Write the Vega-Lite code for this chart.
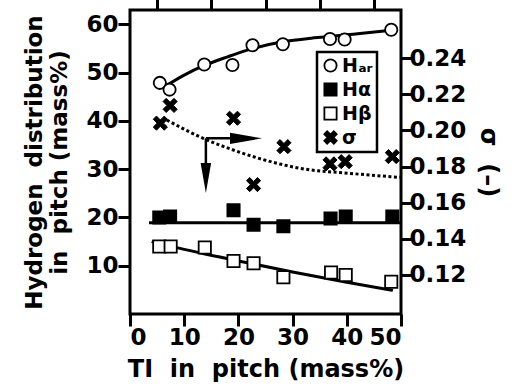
{
  "$schema": "https://vega.github.io/schema/vega-lite/v6.json",
  "width": 271,
  "height": 304,
  "autosize": {"type": "none"},
  "padding": {"left": 130, "top": 10, "right": 112, "bottom": 78},
  "background": "white",
  "config": {
    "view": {"stroke": "black", "strokeWidth": 3},
    "axis": {
      "domain": false, "grid": false, "zindex": 1,
      "tickColor": "black", "tickWidth": 3,
      "labelFont": "DejaVu Sans", "labelFontSize": 23, "labelFontWeight": "bold", "labelColor": "black",
      "titleFont": "DejaVu Sans", "titleFontSize": 24, "titleFontWeight": "bold", "titleColor": "black"
    },
    "legend": {
      "orient": "none", "legendX": 187, "legendY": 42,
      "strokeColor": "black", "strokeWidth": 2.5, "fillColor": "white", "padding": 4,
      "labelFont": "DejaVu Sans", "labelFontSize": 19, "labelFontWeight": "bold", "labelColor": "black", "labelOffset": 2,
      "symbolSize": 150, "symbolStrokeColor": "black", "symbolStrokeWidth": 1.6, "symbolOpacity": 1,
      "rowPadding": 3
    }
  },
  "datasets": {
    "pts": [
      {"series": "Har", "x": 5.5, "h": 47.9},
      {"series": "Har", "x": 7.3, "h": 46.5},
      {"series": "Har", "x": 13.7, "h": 51.7},
      {"series": "Har", "x": 18.9, "h": 51.6},
      {"series": "Har", "x": 22.6, "h": 55.7},
      {"series": "Har", "x": 28.2, "h": 55.9},
      {"series": "Har", "x": 36.9, "h": 57.0},
      {"series": "Har", "x": 39.6, "h": 56.9},
      {"series": "Har", "x": 48.2, "h": 58.9},
      {"series": "Hα", "x": 5.4, "h": 20.0},
      {"series": "Hα", "x": 7.4, "h": 20.2},
      {"series": "Hα", "x": 19.1, "h": 21.5},
      {"series": "Hα", "x": 22.8, "h": 18.5},
      {"series": "Hα", "x": 28.3, "h": 18.2},
      {"series": "Hα", "x": 37.0, "h": 19.8},
      {"series": "Hα", "x": 39.8, "h": 20.2},
      {"series": "Hα", "x": 48.4, "h": 20.2},
      {"series": "Hβ", "x": 5.4, "h": 14.0},
      {"series": "Hβ", "x": 7.5, "h": 14.0},
      {"series": "Hβ", "x": 13.8, "h": 13.8},
      {"series": "Hβ", "x": 19.1, "h": 11.0},
      {"series": "Hβ", "x": 22.8, "h": 10.5},
      {"series": "Hβ", "x": 28.3, "h": 7.6},
      {"series": "Hβ", "x": 37.1, "h": 8.6},
      {"series": "Hβ", "x": 39.8, "h": 8.1},
      {"series": "Hβ", "x": 48.2, "h": 6.7},
      {"series": "σ", "x": 5.6, "s": 0.2040},
      {"series": "σ", "x": 7.4, "s": 0.2138},
      {"series": "σ", "x": 19.1, "s": 0.2067},
      {"series": "σ", "x": 22.8, "s": 0.1700},
      {"series": "σ", "x": 28.4, "s": 0.1910},
      {"series": "σ", "x": 36.9, "s": 0.1815},
      {"series": "σ", "x": 39.7, "s": 0.1827},
      {"series": "σ", "x": 48.4, "s": 0.1855}
    ],
    "fits": [
      {"series": "Har", "x": 6.8, "h": 47.4},
      {"series": "Har", "x": 10, "h": 49.5},
      {"series": "Har", "x": 13.7, "h": 51.5},
      {"series": "Har", "x": 18, "h": 53.3},
      {"series": "Har", "x": 22.6, "h": 55.0},
      {"series": "Har", "x": 28.2, "h": 56.4},
      {"series": "Har", "x": 33, "h": 57.1},
      {"series": "Har", "x": 37, "h": 57.5},
      {"series": "Har", "x": 42, "h": 58.1},
      {"series": "Har", "x": 48.2, "h": 58.8},
      {"series": "Hα", "x": 3.5, "h": 18.9},
      {"series": "Hα", "x": 49.8, "h": 18.9},
      {"series": "Hβ", "x": 4.0, "h": 15.0},
      {"series": "Hβ", "x": 10, "h": 13.4},
      {"series": "Hβ", "x": 20, "h": 11.0},
      {"series": "Hβ", "x": 30, "h": 8.7},
      {"series": "Hβ", "x": 40, "h": 6.6},
      {"series": "Hβ", "x": 48.5, "h": 4.9},
      {"series": "σ", "x": 6.8, "s": 0.2057},
      {"series": "σ", "x": 13.5, "s": 0.1956},
      {"series": "σ", "x": 19.1, "s": 0.1891},
      {"series": "σ", "x": 27.1, "s": 0.1818},
      {"series": "σ", "x": 31.4, "s": 0.1790},
      {"series": "σ", "x": 40.6, "s": 0.1762},
      {"series": "σ", "x": 48.0, "s": 0.1744},
      {"series": "σ", "x": 49.8, "s": 0.1740}
    ],
    "shafts": [
      {"x": 14.0, "h": 36.4, "x2": 14.0, "h2": 29.5},
      {"x": 14.0, "h": 36.4, "x2": 20.0, "h2": 36.4}
    ],
    "headsDown": [{"x": 14.0, "h": 28.2}],
    "headsRight": [{"x": 21.4, "h": 36.4}]
  },
  "layer": [
    {
      "layer": [
        {
          "data": {"name": "fits"},
          "transform": [{"filter": "datum.series != 'σ'"}],
          "mark": {"type": "line", "interpolate": "monotone", "color": "black", "strokeWidth": 3},
          "encoding": {
            "x": {"field": "x", "type": "quantitative", "scale": {"domain": [0, 50], "nice": false},
              "axis": {"orient": "bottom", "values": [0, 10, 20, 30, 40, 50], "tickSize": 12, "labelPadding": 0,
                "encode": {"ticks": {"update": {"y": {"value": 0}, "y2": {"value": -12}}}},
                "title": "TI\u00a0 in\u00a0 pitch (mass%)", "titlePadding": 8}},
            "y": {"field": "h", "type": "quantitative", "scale": {"domain": [0, 63], "nice": false},
              "axis": {"orient": "left", "values": [10, 20, 30, 40, 50, 60], "tickSize": 12, "labelPadding": 0,
                "encode": {"ticks": {"update": {"x": {"value": 0}, "x2": {"value": 12}}}},
                "title": ["Hydrogen\u00a0 distribution", "in\u00a0 pitch (mass%)"], "titleFontSize": 23, "titlePadding": 14}},
            "detail": {"field": "series"}
          }
        },
        {
          "data": {"name": "shafts"},
          "mark": {"type": "rule", "color": "black", "strokeWidth": 2.5},
          "encoding": {
            "x": {"field": "x", "type": "quantitative"},
            "y": {"field": "h", "type": "quantitative"},
            "x2": {"field": "x2"},
            "y2": {"field": "h2"}
          }
        },
        {
          "data": {"name": "headsDown"},
          "mark": {"type": "point", "shape": "M-0.35,-1L0.35,-1L0,1Z", "filled": true, "color": "black", "size": 900, "opacity": 1},
          "encoding": {
            "x": {"field": "x", "type": "quantitative"},
            "y": {"field": "h", "type": "quantitative"}
          }
        },
        {
          "data": {"name": "headsRight"},
          "mark": {"type": "point", "shape": "M-1,-0.35L-1,0.35L1,0Z", "filled": true, "color": "black", "size": 1024, "opacity": 1},
          "encoding": {
            "x": {"field": "x", "type": "quantitative"},
            "y": {"field": "h", "type": "quantitative"}
          }
        },
        {
          "data": {"name": "pts"},
          "transform": [{"filter": "datum.series != 'σ'"}],
          "mark": {"type": "point", "filled": true, "stroke": "black", "strokeWidth": 1.8, "size": 150, "opacity": 1},
          "encoding": {
            "x": {"field": "x", "type": "quantitative"},
            "y": {"field": "h", "type": "quantitative"},
            "shape": {"field": "series", "type": "nominal",
              "scale": {"domain": ["Har", "Hα", "Hβ", "σ"], "range": ["circle", "square", "square", "M-1,-0.55L-0.55,-1L0,-0.45L0.55,-1L1,-0.55L0.45,0L1,0.55L0.55,1L0,0.45L-0.55,1L-1,0.55L-0.45,0Z"]},
              "legend": {"title": null, "labelExpr": "datum.label == 'Har' ? 'Hₐᵣ' : datum.label",
                "encode": {"symbols": {"update": {"stroke": {"value": "black"}, "strokeWidth": {"value": 1.8}, "opacity": {"value": 1}}}}}},
            "fill": {"field": "series", "type": "nominal",
              "scale": {"domain": ["Har", "Hα", "Hβ", "σ"], "range": ["white", "black", "white", "black"]},
              "legend": {"title": null, "labelExpr": "datum.label == 'Har' ? 'Hₐᵣ' : datum.label",
                "encode": {"symbols": {"update": {"stroke": {"value": "black"}, "strokeWidth": {"value": 1.8}, "opacity": {"value": 1}}}}}}
          }
        }
      ]
    },
    {
      "layer": [
        {
          "data": {"name": "fits"},
          "transform": [{"filter": "datum.series == 'σ'"}],
          "mark": {"type": "line", "interpolate": "monotone", "color": "black", "strokeWidth": 3, "strokeDash": [3, 2.5]},
          "encoding": {
            "x": {"field": "x", "type": "quantitative", "scale": {"domain": [0, 50], "nice": false},
              "axis": {"orient": "top", "values": [5, 10, 15, 20, 25, 30, 35, 40, 45], "tickSize": 12, "labels": false,
                "encode": {"ticks": {"update": {"y": {"value": 0}, "y2": {"value": 12}}}}, "title": null}},
            "y": {"field": "s", "type": "quantitative", "scale": {"domain": [0.0984, 0.2666], "nice": false, "zero": false},
              "axis": {"orient": "right", "values": [0.12, 0.14, 0.16, 0.18, 0.2, 0.22, 0.24], "format": ".2f", "tickSize": 10, "labelPadding": -2,
                "encode": {"ticks": {"update": {"x": {"value": 0}, "x2": {"value": -10}}}},
                "title": "σ\u00a0 (–)", "titlePadding": 10}}
          }
        },
        {
          "data": {"name": "pts"},
          "transform": [{"filter": "datum.series == 'σ'"}],
          "mark": {"type": "point", "filled": true, "stroke": "black", "strokeWidth": 1, "size": 200, "opacity": 1},
          "encoding": {
            "x": {"field": "x", "type": "quantitative"},
            "y": {"field": "s", "type": "quantitative"},
            "shape": {"field": "series", "type": "nominal",
              "scale": {"domain": ["Har", "Hα", "Hβ", "σ"], "range": ["circle", "square", "square", "M-1,-0.55L-0.55,-1L0,-0.45L0.55,-1L1,-0.55L0.45,0L1,0.55L0.55,1L0,0.45L-0.55,1L-1,0.55L-0.45,0Z"]},
              "legend": {"title": null, "labelExpr": "datum.label == 'Har' ? 'Hₐᵣ' : datum.label",
                "encode": {"symbols": {"update": {"stroke": {"value": "black"}, "strokeWidth": {"value": 1.8}, "opacity": {"value": 1}}}}}},
            "fill": {"field": "series", "type": "nominal",
              "scale": {"domain": ["Har", "Hα", "Hβ", "σ"], "range": ["white", "black", "white", "black"]},
              "legend": {"title": null, "labelExpr": "datum.label == 'Har' ? 'Hₐᵣ' : datum.label",
                "encode": {"symbols": {"update": {"stroke": {"value": "black"}, "strokeWidth": {"value": 1.8}, "opacity": {"value": 1}}}}}}
          }
        }
      ]
    }
  ],
  "resolve": {"scale": {"x": "independent", "y": "independent"}, "axis": {"x": "independent", "y": "independent"}}
}
